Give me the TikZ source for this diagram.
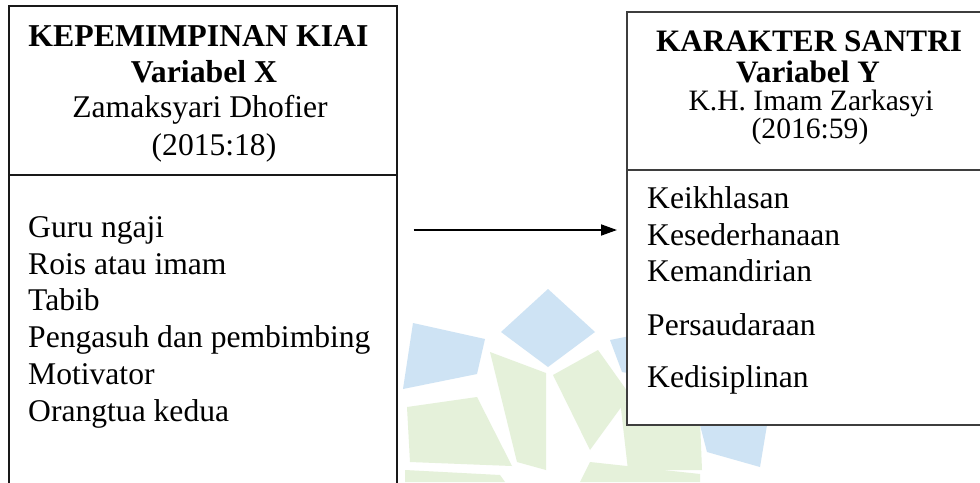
\documentclass[tikz,border=0pt]{standalone}
\usepackage{fontspec}
\setmainfont{Liberation Serif}
\usetikzlibrary{arrows.meta}
\definecolor{wmblue}{RGB}{206,227,244}
\definecolor{wmgreen}{RGB}{229,241,218}
\definecolor{boxgray}{RGB}{62,62,62}
\begin{document}
\begin{tikzpicture}[x=1pt,y=-1pt,
  boxl/.style={draw=black!90, line width=1.6pt, fill=white, inner sep=0pt, anchor=north west},
  boxr/.style={draw=boxgray, line width=1.8pt, fill=white, inner sep=0pt, anchor=north west},
  hbl/.style={anchor=base, inner sep=0pt, font=\fontsize{31.8}{36}\selectfont\bfseries},
  hrl/.style={anchor=base, inner sep=0pt, font=\fontsize{31.6}{36}\selectfont},
  hbr/.style={anchor=base, inner sep=0pt, font=\fontsize{31.2}{36}\selectfont\bfseries},
  hrr/.style={anchor=base, inner sep=0pt, font=\fontsize{29.6}{34}\selectfont},
  item/.style={anchor=base west, inner sep=0pt, font=\fontsize{31.6}{36}\selectfont},
  wmb/.style={fill=wmblue, draw=none},
  wmg/.style={fill=wmgreen, draw=none},
  link/.style={line width=1.8pt, -{Triangle[length=16pt,width=11pt]}}
]
\useasboundingbox (0,0) rectangle (980,482);
\clip (0,0) rectangle (980,482);
\fill[white] (0,0) rectangle (980,482);
% watermark
\fill[wmb] (548,289) -- (595,332) -- (548,367) -- (501,332) -- cycle;
\fill[wmb] (413,323) -- (485,339) -- (477,374) -- (403,389) -- cycle;
\fill[wmg] (407,407) -- (477,397) -- (512,466) -- (410,462) -- cycle;
\fill[wmg] (490,352) -- (546,373) -- (546,470) -- (517,462) -- cycle;
\fill[wmg] (553,375) -- (598,350) -- (630,395) -- (590,450) -- cycle;
\fill[wmb] (610,340) -- (660,330) -- (665,380) -- (622,372) -- cycle;
\fill[wmg] (620,400) -- (700,420) -- (702,470) -- (628,470) -- cycle;
\fill[wmb] (700,425) -- (767,425) -- (760,467) -- (707,452) -- cycle;
\fill[wmg] (590,462) -- (700,474) -- (700,482) -- (580,482) -- cycle;
\fill[wmg] (405,470) -- (500,475) -- (505,482) -- (405,482) -- cycle;
% boxes
\node[boxl, minimum width=388pt, minimum height=169pt] (lhead) at (8,5) {};
\node[boxl, minimum width=388pt, minimum height=330pt] (lbody) at (8,174) {};
\node[boxr, minimum width=380pt, minimum height=158pt] (rhead) at (626,11) {};
\node[boxr, minimum width=380pt, minimum height=255pt] (rbody) at (626,169) {};
% left header
\node[hbl] (l1) at (198.5,46) {KEPEMIMPINAN KIAI};
\node[hbl] (l2) at (204,82) {Variabel X};
\node[hrl] (l3) at (200,117) {Zamaksyari Dhofier};
\node[hrl] (l4) at (214,155) {(2015:18)};
% left body
\node[item] (a1) at (28,237) {Guru ngaji};
\node[item] (a2) at (28,274) {Rois atau imam};
\node[item] (a3) at (28,310) {Tabib};
\node[item] (a4) at (28,347) {Pengasuh dan pembimbing};
\node[item] (a5) at (28,384) {Motivator};
\node[item] (a6) at (28,421) {Orangtua kedua};
% right header
\node[hbr] (r1) at (809,51) {KARAKTER SANTRI};
\node[hbr] (r2) at (808,82) {Variabel Y};
\node[hrr] (r3) at (811,110) {K.H. Imam Zarkasyi};
\node[hrr] (r4) at (810,138) {(2016:59)};
% right body
\node[item] (b1) at (647,208) {Keikhlasan};
\node[item] (b2) at (647,245) {Kesederhanaan};
\node[item] (b3) at (647,281) {Kemandirian};
\node[item] (b4) at (647,335) {Persaudaraan};
\node[item] (b5) at (647,387) {Kedisiplinan};
% connector
\coordinate (ay) at (0,230);
\draw[link, shorten <=16pt, shorten >=9pt] (lbody.east |- ay) -- (rbody.west |- ay);
\end{tikzpicture}
\end{document}
